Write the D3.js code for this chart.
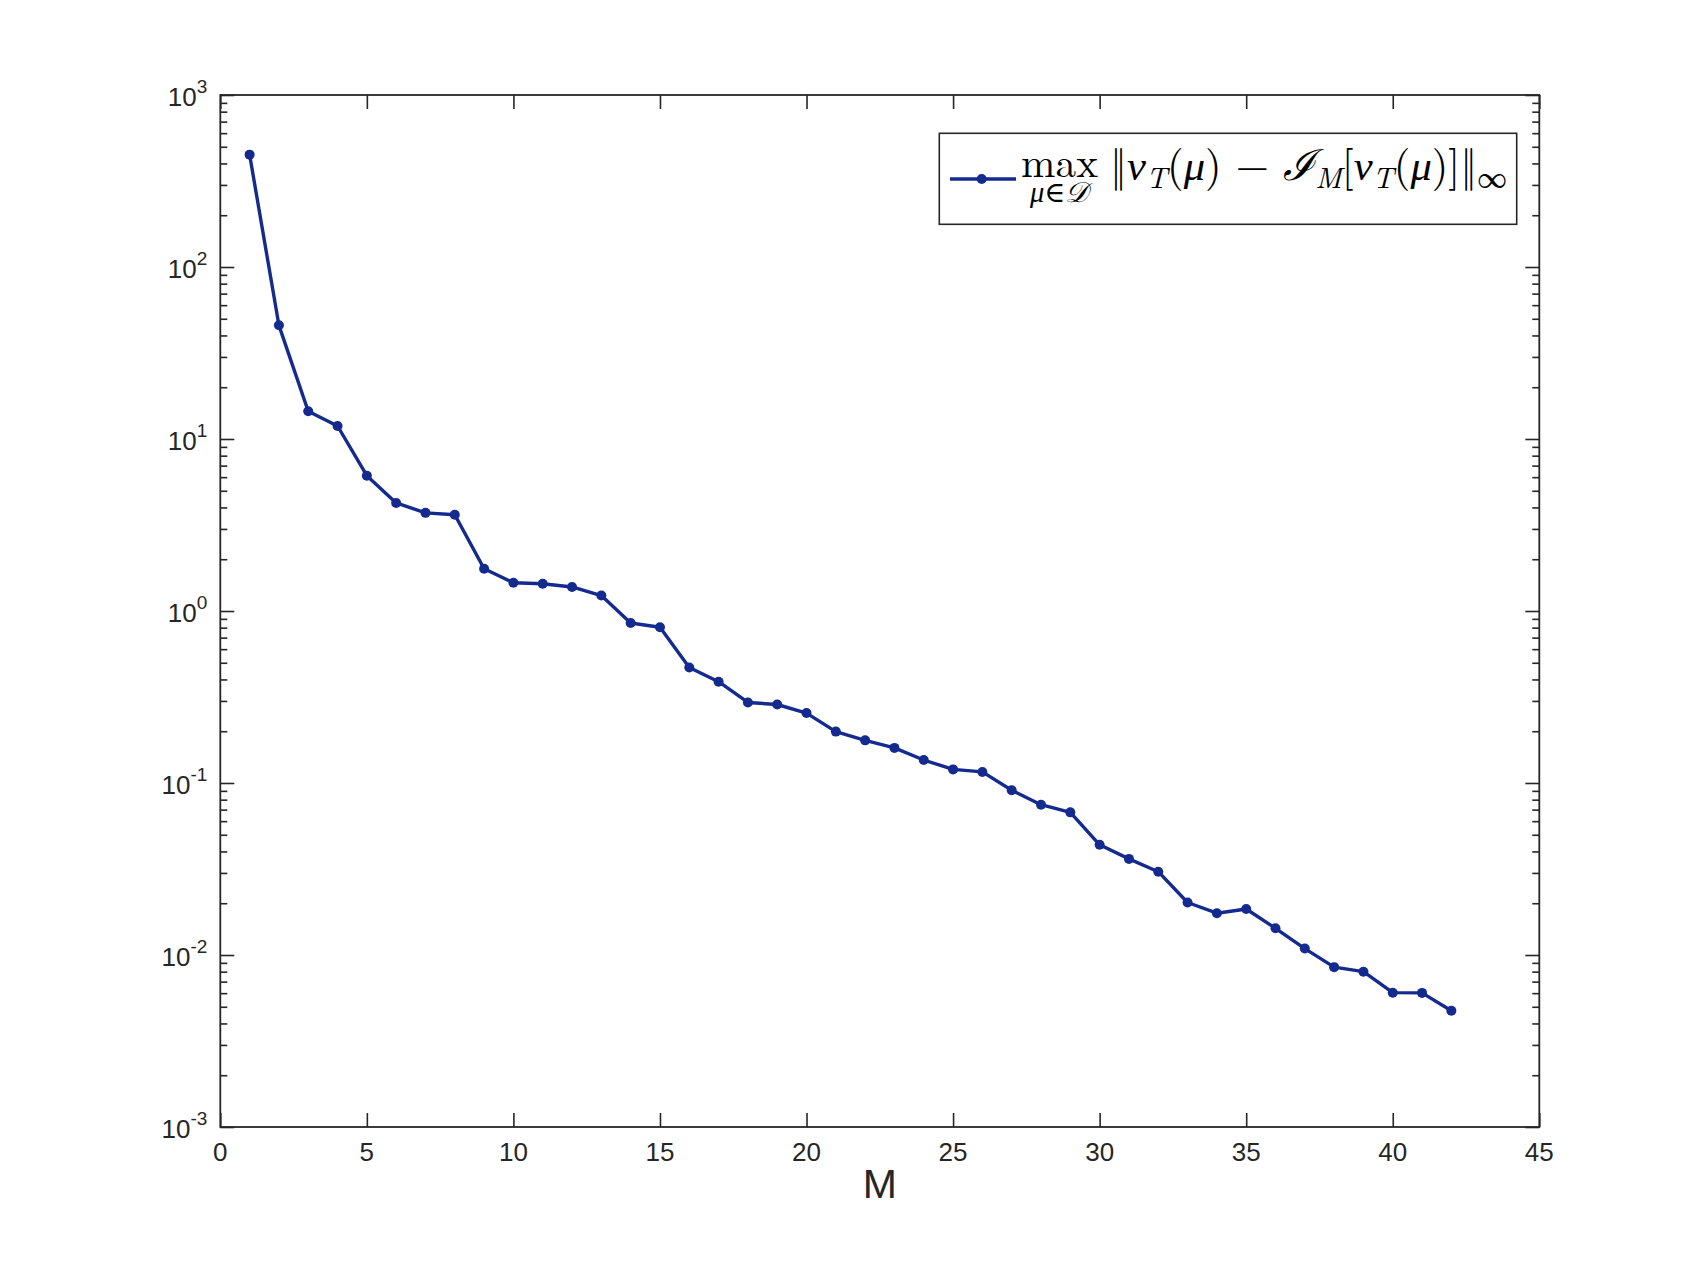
<!DOCTYPE html>
<html><head><meta charset="utf-8">
<script src="https://cdn.jsdelivr.net/npm/d3@7"></script>
<style>body{margin:0;background:#fff}svg{display:block}</style>
</head><body>
<script>
const M = d3.range(1, 43);
const errorValues = [450, 45.8, 14.5, 11.9, 6.12, 4.25, 3.72, 3.63, 1.76, 1.46, 1.44, 1.38, 1.23, 0.852, 0.804,
  0.469, 0.388, 0.294, 0.286, 0.255, 0.199, 0.177, 0.160, 0.136, 0.120, 0.116, 0.0908, 0.0748, 0.0675, 0.0437,
  0.0362, 0.0305, 0.0202, 0.0175, 0.0185, 0.0143, 0.0109, 0.0085, 0.0080, 0.00604, 0.00602, 0.00474];
const xTicks = [0, 5, 10, 15, 20, 25, 30, 35, 40, 45];
const yTickExps = [-3, -2, -1, 0, 1, 2, 3];
const xLabel = "M";

const W = 1703, H = 1267;
const L = 220.3, R = 1539.3, T = 95, B = 1127;
const ink = "#262626", blue = "#142a8e";
const font = "'Liberation Sans', Arial, Helvetica, sans-serif";

const svg = d3.select("body").append("svg").attr("width", W).attr("height", H);
const x = d3.scaleLinear().domain([0, 45]).range([L, R]);
const y = d3.scaleLog().domain([1e-3, 1e3]).range([B, T]);

const g = svg.append("g");

const minor = [];
for (let e = -3; e < 3; e++) for (let k = 2; k <= 9; k++) minor.push(k * Math.pow(10, e));
const majorY = yTickExps.map(e => Math.pow(10, e));
const styleTicks = s => { s.select(".domain").remove(); s.selectAll("line").attr("stroke", ink).attr("stroke-width", 1.6); };

g.append("g").attr("transform", `translate(${L},0)`)
  .call(d3.axisRight(y).tickValues(majorY).tickSize(14).tickFormat("")).call(styleTicks);
g.append("g").attr("transform", `translate(${L},0)`)
  .call(d3.axisRight(y).tickValues(minor).tickSize(7).tickFormat("")).call(styleTicks);
g.append("g").attr("transform", `translate(${R},0)`)
  .call(d3.axisLeft(y).tickValues(majorY).tickSize(14).tickFormat("")).call(styleTicks);
g.append("g").attr("transform", `translate(${R},0)`)
  .call(d3.axisLeft(y).tickValues(minor).tickSize(7).tickFormat("")).call(styleTicks);
g.append("g").attr("transform", `translate(0,${B})`)
  .call(d3.axisTop(x).tickValues(xTicks).tickSize(14).tickFormat("")).call(styleTicks);
g.append("g").attr("transform", `translate(0,${T})`)
  .call(d3.axisBottom(x).tickValues(xTicks).tickSize(14).tickFormat("")).call(styleTicks);

g.append("rect").attr("x", L).attr("y", T).attr("width", R - L).attr("height", B - T)
  .attr("fill", "none").attr("stroke", ink).attr("stroke-width", 1.8);

g.selectAll(".xl").data(xTicks).join("text")
  .attr("x", d => x(d)).attr("y", B + 34)
  .attr("text-anchor", "middle").attr("font-family", font).attr("font-size", 26).attr("fill", ink)
  .text(d => d);

yTickExps.forEach(e => {
  const t = g.append("text").attr("x", L - 13).attr("y", y(Math.pow(10, e)) + 11)
    .attr("text-anchor", "end").attr("font-family", font).attr("fill", ink);
  t.append("tspan").attr("font-size", 26).text("10");
  t.append("tspan").attr("font-size", 19).attr("dy", -13).text(e < 0 ? "-" + (-e) : String(e));
});

g.append("text").attr("x", (L + R) / 2).attr("y", 1198).attr("text-anchor", "middle")
  .attr("font-family", font).attr("font-size", 41).attr("fill", ink).text(xLabel);

const line = d3.line().x((d, i) => x(M[i])).y(d => y(d));
g.append("path").datum(errorValues).attr("d", line).attr("fill", "none")
  .attr("stroke", blue).attr("stroke-width", 3.4).attr("stroke-linejoin", "round");
g.selectAll(".pt").data(errorValues).join("circle")
  .attr("cx", (d, i) => x(M[i])).attr("cy", d => y(d)).attr("r", 5).attr("fill", blue);

// legend
const lx0 = 939.3, ly0 = 133.3, lx1 = 1516.7, ly1 = 224.3;
g.append("rect").attr("x", lx0).attr("y", ly0).attr("width", lx1 - lx0).attr("height", ly1 - ly0)
  .attr("fill", "#fff").attr("stroke", ink).attr("stroke-width", 1.6);
g.append("line").attr("x1", 950).attr("x2", 1016).attr("y1", 179).attr("y2", 179)
  .attr("stroke", blue).attr("stroke-width", 3.4);
g.append("circle").attr("cx", 981.7).attr("cy", 179).attr("r", 5).attr("fill", blue);

const serif = "'Latin Modern Roman','Liberation Serif','DejaVu Serif',serif";
const lt = g.append("text").attr("font-family", serif).attr("fill", "#000");

const maxSpan = lt.append("tspan").attr("x", 1021).attr("y", 177).attr("font-size", 36).text("max");
const mw0 = maxSpan.node().getComputedTextLength();
if (mw0 > 0) maxSpan.attr("font-size", 36 * 77 / mw0);

const subParts = [{ t: "\u03BC", i: true }, { t: "\u2208" }, { t: "\uD835\uDC9F", i: true }];
const subSpans = subParts.map(p => {
  const s = lt.append("tspan").attr("y", 202).attr("font-size", 24).text(p.t);
  if (p.i) s.attr("font-style", "italic");
  return s;
});
let sw = 0; subSpans.forEach(s => sw += s.node().getComputedTextLength());
if (sw > 0) {
  const k = 58 / sw;
  subSpans.forEach(s => s.attr("font-size", 24 * k));
}
subSpans[0].attr("x", 1030);

const parts = [
  { t: "\u2016", s: 36 },
  { t: "\u03BD", s: 36, i: true },
  { t: "T", s: 25, i: true, sub: true },
  { t: "(", s: 36 },
  { t: "\u03BC", s: 36, i: true },
  { t: ") \u2212 ", s: 36 },
  { t: "\u2110", s: 36, i: true },
  { t: "M", s: 25, i: true, sub: true },
  { t: "[", s: 36 },
  { t: "\u03BD", s: 36, i: true },
  { t: "T", s: 25, i: true, sub: true },
  { t: "(", s: 36 },
  { t: "\u03BC", s: 36, i: true },
  { t: ")]\u2016", s: 36 },
  { t: "\u221E", s: 25, sub: true }
];
const mainSpans = parts.map(p => {
  const sp = lt.append("tspan").attr("font-size", p.s).attr("y", p.sub ? 188 : 180).text(p.t);
  if (p.i) sp.attr("font-style", "italic");
  sp.datum(p);
  return sp;
});
mainSpans[0].attr("x", 1110);
let tw = 0; mainSpans.forEach(s => tw += s.node().getComputedTextLength());
if (tw > 0) {
  const k = (1507 - 1110) / tw;
  mainSpans.forEach(s => s.attr("font-size", s.datum().s * k));
}
</script>
</body></html>
